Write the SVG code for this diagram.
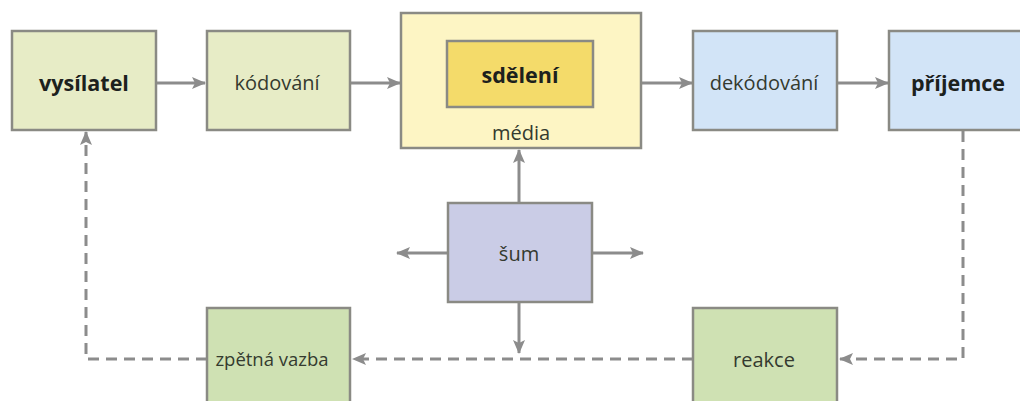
<svg xmlns="http://www.w3.org/2000/svg" width="1020" height="401" viewBox="0 0 1020 401">
<defs>
<style>
.box{stroke:#8a8a84;stroke-width:2.5}
.g1{fill:#e7ecc6}
.g2{fill:#cfe1b3}
.bl{fill:#d2e4f7}
.pu{fill:#caccE6}
.ye{fill:#fdf5c4}
.ye2{fill:#f4db6a}
text{font-family:"Open Sans","Noto Sans","DejaVu Sans",sans-serif;font-size:20px;text-anchor:middle;fill:#343a2f}
.b{font-weight:bold;fill:#1c211d;font-size:21.5px}
.s{font-size:18.5px}
.c{fill:none;stroke:#8c8c8c;stroke-width:3}
.d{stroke-dasharray:11 7}
</style>
<marker id="ah" viewBox="0 0 14 12" refX="13" refY="6" markerWidth="14" markerHeight="12" markerUnits="userSpaceOnUse" orient="auto">
<path d="M0,0 L14,6 L0,12 L3,6 Z" fill="#8c8c8c"/>
</marker>
</defs>
<rect width="1020" height="401" fill="#ffffff"/>
<g id="connectors">
<line class="c" x1="157" y1="83" x2="205" y2="83" marker-end="url(#ah)"/>
<line class="c" x1="351" y1="83" x2="400" y2="83" marker-end="url(#ah)"/>
<line class="c" x1="642" y1="83" x2="692" y2="83" marker-end="url(#ah)"/>
<line class="c" x1="838" y1="83" x2="888" y2="83" marker-end="url(#ah)"/>
<line class="c" x1="519" y1="203" x2="519" y2="150" marker-end="url(#ah)"/>
<line class="c" x1="448" y1="253" x2="397" y2="253" marker-end="url(#ah)"/>
<line class="c" x1="592" y1="253" x2="643" y2="253" marker-end="url(#ah)"/>
<line class="c" x1="519" y1="302" x2="519" y2="353" marker-end="url(#ah)"/>
<polyline class="c d" points="963,131 963,359 840,359" marker-end="url(#ah)"/>
<line class="c d" x1="693" y1="359" x2="353" y2="359" marker-end="url(#ah)"/>
<polyline class="c d" points="207,359 86,359 86,132" marker-end="url(#ah)"/>
</g>
<g id="vysilatel"><rect class="box g1" x="12" y="31" width="144" height="99"/><text class="b" x="84" y="91">vysílatel</text></g>
<g id="kodovani"><rect class="box g1" x="207" y="31" width="143" height="99"/><text x="277" y="90">kódování</text></g>
<g id="media"><rect class="box ye" x="401" y="13" width="240" height="135"/><text x="521" y="140">média</text></g>
<g id="sdeleni"><rect class="box ye2" x="447" y="41" width="146" height="66"/><text class="b" x="520" y="83">sdělení</text></g>
<g id="dekodovani"><rect class="box bl" x="693" y="31" width="144" height="99"/><text x="764" y="90">dekódování</text></g>
<g id="prijemce"><rect class="box bl" x="889" y="31" width="144" height="99"/><text class="b" x="958" y="91">příjemce</text></g>
<g id="sum"><rect class="box pu" x="448" y="203" width="144" height="99"/><text x="519" y="261">šum</text></g>
<g id="zpetna-vazba"><rect class="box g2" x="207" y="308" width="143" height="99"/><text class="s" x="272" y="366">zpětná vazba</text></g>
<g id="reakce"><rect class="box g2" x="693" y="308" width="144" height="99"/><text x="764" y="367">reakce</text></g>
</svg>
